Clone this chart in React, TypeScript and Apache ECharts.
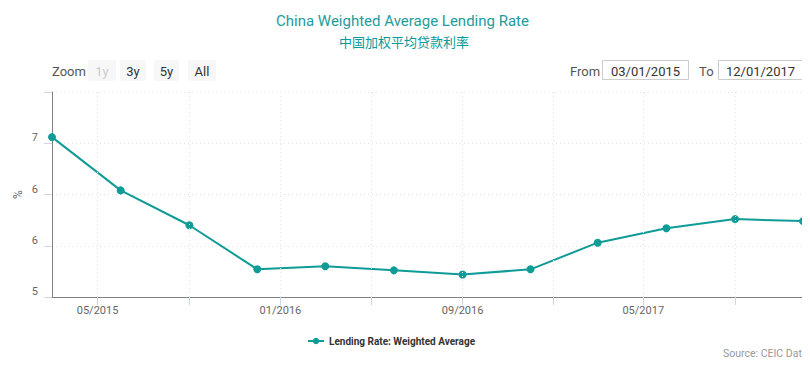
import React, { useEffect, useRef } from "react";
import * as echarts from "echarts";

const dates = [
  "2015-03-01", "2015-06-01", "2015-09-01", "2015-12-01",
  "2016-03-01", "2016-06-01", "2016-09-01", "2016-12-01",
  "2017-03-01", "2017-06-01", "2017-09-01", "2017-12-01",
];
const rates = [6.56, 6.04, 5.70, 5.27, 5.30, 5.26, 5.22, 5.27, 5.53, 5.67, 5.76, 5.74];
const tickDates = [
  "2015-05-01", "2015-09-01", "2016-01-01", "2016-05-01",
  "2016-09-01", "2017-01-01", "2017-05-01", "2017-09-01",
];
const labelDates = ["2015-05-01", "2016-01-01", "2016-09-01", "2017-05-01"];
const zoomButtons = ["1y", "3y", "5y", "All"];
const fromDate = "03/01/2015";
const toDate = "12/01/2017";
const seriesName = "Lending Rate: Weighted Average";
const titleEn = "China Weighted Average Lending Rate";
const titleZh = "中国加权平均贷款利率";

const ts = (s: string) => {
  const [y, m, d] = s.split("-").map(Number);
  return new Date(y, m - 1, d).getTime();
};

const FONT = "Roboto, 'Noto Sans CJK SC', sans-serif";

export default function App() {
  const ref = useRef<HTMLDivElement>(null);
  useEffect(() => {
    if (!ref.current) return;
    const chart = echarts.init(ref.current, undefined, { renderer: "svg" });
    const btnX = [88, 120, 154, 188];
    const btnW = [28, 26, 25, 28];
    const graphic: any[] = [
      { type: "text", x: 52, y: 71, style: { text: "Zoom", fill: "#555", font: `13px ${FONT}`, verticalAlign: "middle" } },
    ];
    zoomButtons.forEach((b, i) => {
      graphic.push({
        type: "rect",
        shape: { x: btnX[i], y: 60, width: btnW[i], height: 21, r: 2 },
        style: { fill: "#f7f7f7" },
      });
      graphic.push({
        type: "text",
        x: btnX[i] + btnW[i] / 2,
        y: 71,
        style: {
          text: b,
          fill: i === 0 ? "#cccccc" : "#333",
          font: `13px ${FONT}`,
          align: "center",
          verticalAlign: "middle",
        },
      });
    });
    graphic.push(
      { type: "text", x: 570, y: 71, style: { text: "From", fill: "#555", font: `13px ${FONT}`, verticalAlign: "middle" } },
      { type: "rect", shape: { x: 602.5, y: 60.5, width: 86, height: 19 }, style: { fill: "#fff", stroke: "#cccccc", lineWidth: 1 } },
      { type: "text", x: 645.5, y: 71, style: { text: fromDate, fill: "#333", font: `13px ${FONT}`, align: "center", verticalAlign: "middle" } },
      { type: "text", x: 699, y: 71, style: { text: "To", fill: "#555", font: `13px ${FONT}`, verticalAlign: "middle" } },
      { type: "rect", shape: { x: 718.5, y: 60.5, width: 84, height: 19 }, style: { fill: "#fff", stroke: "#cccccc", lineWidth: 1 } },
      { type: "text", x: 760.5, y: 71, style: { text: toDate, fill: "#333", font: `13px ${FONT}`, align: "center", verticalAlign: "middle" } },
      { type: "text", x: 723, y: 353, style: { text: "Source: CEIC Data", fill: "#999", font: `10.5px ${FONT}`, verticalAlign: "middle" } },
      { type: "rect", shape: { x: 802.5, y: 92, width: 1, height: 205 }, style: { fill: "#808080" }, z: 100 }
    );

    chart.setOption({
      animation: false,
      textStyle: { fontFamily: FONT },
      title: [
        { text: titleEn, left: 271, top: 8, textStyle: { color: "#1e9c9c", fontSize: 15, fontWeight: "normal", fontFamily: FONT } },
        { text: titleZh, left: 334, top: 31, textStyle: { color: "#0a9a9a", fontSize: 13, fontWeight: "normal", fontFamily: FONT } },
      ],
      legend: {
        left: 302,
        top: 331,
        itemWidth: 16,
        itemHeight: 8,
        textStyle: { color: "#333", fontSize: 10, fontWeight: "bold", fontFamily: FONT },
        data: [seriesName],
      },
      grid: { left: 52, right: 7, top: 92, bottom: 72, containLabel: false },
      xAxis: {
        type: "value",
        min: ts(dates[0]),
        max: ts(dates[dates.length - 1]),
        axisLine: { show: true, onZero: false, lineStyle: { color: "#808080", width: 1 } },
        axisTick: { show: true, length: 8, lineStyle: { color: "#ccd6eb" }, customValues: tickDates.map(ts) },
        axisLabel: {
          customValues: labelDates.map(ts),
          color: "#666",
          fontSize: 11,
          margin: 8,
          formatter: (v: number) => {
            const d = new Date(v);
            return String(d.getMonth() + 1).padStart(2, "0") + "/" + d.getFullYear();
          },
        },
        splitLine: { show: false },
      },
      yAxis: {
        type: "value",
        min: 5,
        max: 7,
        interval: 0.5,
        name: "%",
        nameLocation: "middle",
        nameGap: 28,
        nameMoveOverlap: false,
        nameRotate: 90,
        nameTextStyle: { color: "#666", fontSize: 12 },
        axisLine: { show: true, lineStyle: { color: "#808080", width: 1 } },
        axisTick: { show: true, length: 8, lineStyle: { color: "#ccd6eb" } },
        axisLabel: {
          color: "#666",
          fontSize: 11,
          margin: 14,
          verticalAlign: "bottom",
          formatter: (v: number) => (v >= 7 ? "" : String(Math.round(v))),
        },
        splitLine: { show: true, lineStyle: { color: "#e3e3e3", type: [1, 3] } },
      },
      series: [
        {
          name: seriesName,
          type: "line",
          data: dates.map((d, i) => [ts(d), rates[i]]),
          symbol: "circle",
          symbolSize: 8,
          itemStyle: { color: "#0f9b96" },
          lineStyle: { color: "#0f9b96", width: 2 },
          markLine: {
            silent: true,
            symbol: "none",
            label: { show: false },
            lineStyle: { color: "#e3e3e3", type: [1, 3], width: 1 },
            data: tickDates.map((d) => ({ xAxis: ts(d) })),
          },
          z: 3,
        },
      ],
      graphic,
    });
    return () => chart.dispose();
  }, []);
  return <div ref={ref} style={{ width: 810, height: 369, margin: -8 }} />;
}
